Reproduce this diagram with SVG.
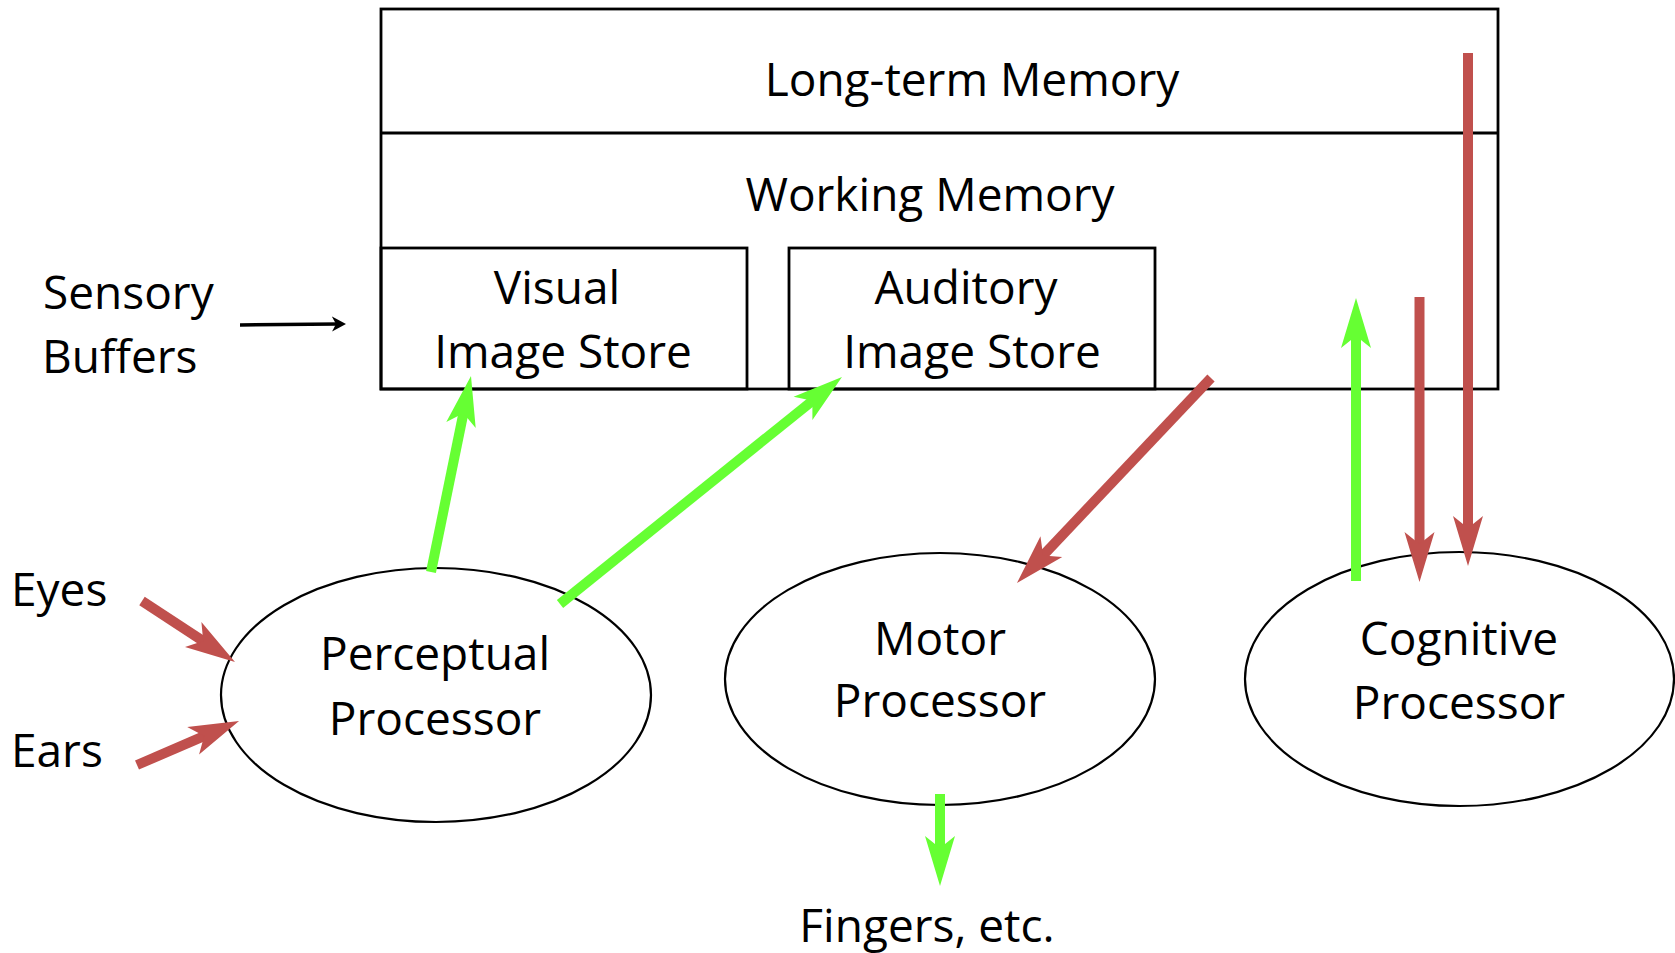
<svg xmlns="http://www.w3.org/2000/svg" width="1675" height="953" viewBox="0 0 1675 953">
<style>
  text { font-family: "Open Sans", "Liberation Sans", sans-serif; font-size: 46px; fill: #000; }
  .mid { text-anchor: middle; }
  .box { fill: none; stroke: #000; stroke-width: 2.8; }
  .ell { fill: #fff; stroke: #000; stroke-width: 2.2; }
  .red { stroke: #C0504D; stroke-width: 10; fill: none; stroke-linecap: butt; marker-end: url(#ahRed); }
  .green { stroke: #66FF33; stroke-width: 10; fill: none; stroke-linecap: butt; marker-end: url(#ahGreen); }
  .blk { stroke: #000; stroke-width: 3.5; fill: none; marker-end: url(#ahBlack); }
</style>
<defs>
  <marker id="ahRed" markerUnits="userSpaceOnUse" viewBox="0 -16 52 32" markerWidth="52" markerHeight="32" refX="20" refY="0" orient="auto">
    <path d="M0,-15 L50,0 L0,15 L12,0 Z" fill="#C0504D"/>
  </marker>
  <marker id="ahGreen" markerUnits="userSpaceOnUse" viewBox="0 -16 52 32" markerWidth="52" markerHeight="32" refX="20" refY="0" orient="auto">
    <path d="M0,-15 L50,0 L0,15 L12,0 Z" fill="#66FF33"/>
  </marker>
  <marker id="ahBlack" markerUnits="userSpaceOnUse" viewBox="0 -8 15 16" markerWidth="15" markerHeight="16" refX="6" refY="0" orient="auto">
    <path d="M0,-7.5 L14,0 L0,7.5 L4,0 Z" fill="#000"/>
  </marker>
</defs>

<g id="memory">
  <rect class="box" x="381" y="9" width="1117" height="380"/>
  <line class="box" x1="381" y1="133" x2="1498" y2="133"/>
  <text class="mid" x="972" y="96">Long-term Memory</text>
  <text class="mid" x="930" y="211">Working Memory</text>
</g>
<g id="visual-store">
  <rect class="box" x="381" y="248" width="366" height="141"/>
  <text class="mid" x="557" y="304">Visual</text>
  <text class="mid" x="563" y="368">Image Store</text>
</g>
<g id="auditory-store">
  <rect class="box" x="789" y="248" width="366" height="141"/>
  <text class="mid" x="966" y="304">Auditory</text>
  <text class="mid" x="972" y="368">Image Store</text>
</g>

<g id="perceptual">
  <ellipse class="ell" cx="436" cy="695" rx="215" ry="127"/>
  <text class="mid" x="435" y="670">Perceptual</text>
  <text class="mid" x="435" y="735">Processor</text>
</g>
<g id="motor">
  <ellipse class="ell" cx="940" cy="679" rx="215" ry="126"/>
  <text class="mid" x="940" y="655">Motor</text>
  <text class="mid" x="940" y="717">Processor</text>
</g>
<g id="cognitive">
  <ellipse class="ell" cx="1459.5" cy="679" rx="214.5" ry="127"/>
  <text class="mid" x="1459" y="655">Cognitive</text>
  <text class="mid" x="1459" y="719">Processor</text>
</g>

<g id="labels">
  <text x="43" y="309">Sensory</text>
  <text x="42" y="373">Buffers</text>
  <text x="11" y="606">Eyes</text>
  <text x="11" y="767">Ears</text>
  <text class="mid" x="927" y="942">Fingers, etc.</text>
</g>

<g id="connectors">
  <line class="blk" x1="240" y1="325" x2="338" y2="324"/>
  <line class="red" x1="142" y1="601" x2="209.9" y2="645.5"/>
  <line class="red" x1="137" y1="765" x2="211.5" y2="732.9"/>
  <line class="green" x1="431" y1="572" x2="465" y2="405.4"/>
  <line class="green" x1="560" y1="604" x2="818.6" y2="395.8"/>
  <line class="red" x1="1211" y1="378" x2="1037.6" y2="561.2"/>
  <line class="green" x1="940" y1="794" x2="940" y2="856"/>
  <line class="green" x1="1356" y1="581" x2="1356" y2="328"/>
  <line class="red" x1="1419.5" y1="297" x2="1419.5" y2="552"/>
  <line class="red" x1="1468" y1="53" x2="1468" y2="536"/>
</g>
</svg>
